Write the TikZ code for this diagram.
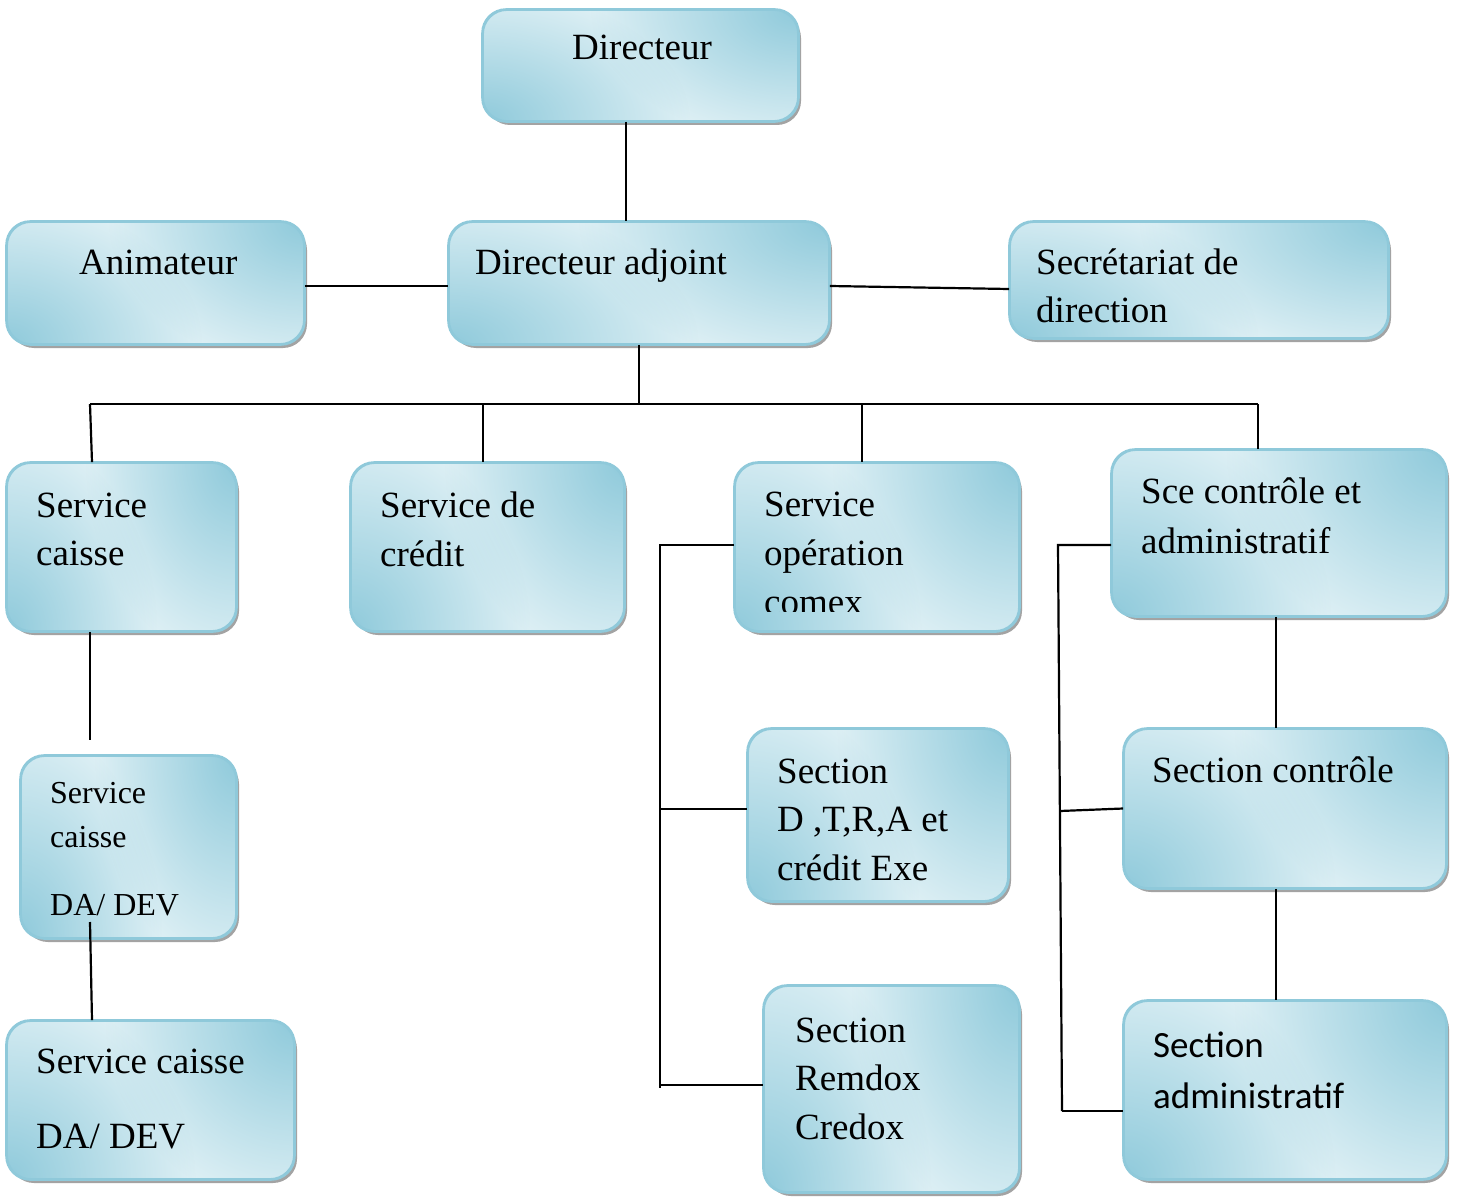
\documentclass[tikz,border=0pt]{standalone}
\usepackage{fontspec}
\setmainfont{Liberation Serif}
\newfontfamily\calfont{Carlito}
\usetikzlibrary{shadows,calc,fadings}
\definecolor{bdk}{HTML}{8FCADB}
\definecolor{blt}{HTML}{DEF0F5}
\definecolor{bbr}{HTML}{8FC9DA}
\tikzfading[name=cfade, inner color=transparent!0, outer color=transparent!100]
\tikzset{
  orgbox/.style={draw=bbr, line width=1.8pt, rounded corners=24pt, fill=blt,
    drop shadow={shadow xshift=3pt,shadow yshift=-4pt,fill=black!40,opacity=0.9},
    inner sep=0pt, rectangle},
  txt/.style={anchor=base west, inner sep=0pt, font=\fontsize{37}{49}\selectfont},
  link/.style={line width=2.2pt, black}
}
\begin{document}
\begin{tikzpicture}[x=1pt,y=-1pt]
\useasboundingbox (0,0) rectangle (1458,1198);
% boxes
\node[orgbox, minimum width=315pt, minimum height=111pt] (dir) at (640.5,65.5) {};
\node[orgbox, minimum width=297pt, minimum height=122pt] (anim) at (155.5,283) {};
\node[orgbox, minimum width=380pt, minimum height=122pt] (dirA) at (639,283) {};
\node[orgbox, minimum width=378pt, minimum height=116pt] (sec) at (1199,280) {};
\node[orgbox, minimum width=229pt, minimum height=168pt] (caisse) at (121.5,547) {};
\node[orgbox, minimum width=273pt, minimum height=168pt] (credit) at (487.5,547) {};
\node[orgbox, minimum width=284pt, minimum height=168pt] (comex) at (877,547) {};
\node[orgbox, minimum width=334pt, minimum height=166pt] (sce) at (1279,533) {};
\node[orgbox, minimum width=215pt, minimum height=182pt] (small) at (128.5,847) {};
\node[orgbox, minimum width=287pt, minimum height=158pt] (caisse2) at (150.5,1100) {};
\node[orgbox, minimum width=260pt, minimum height=172pt] (dtra) at (878,815) {};
\node[orgbox, minimum width=255pt, minimum height=206pt] (remdox) at (891.5,1089) {};
\node[orgbox, minimum width=322pt, minimum height=159pt] (sectC) at (1285,808.5) {};
\node[orgbox, minimum width=322pt, minimum height=178pt] (sectA) at (1285,1090) {};
% gradient corners
\foreach \b/\w/\h in {dir/315/111, anim/297/122, dirA/380/122, sec/378/116, caisse/229/168,
  credit/273/168, comex/284/168, sce/334/166, small/215/182, caisse2/287/158, dtra/260/172,
  remdox/255/206, sectC/322/159, sectA/322/178}{
  \begin{scope}
    \clip[rounded corners=24pt] (\b.south west) rectangle (\b.north east);
    \fill[bdk, path fading=cfade] (\b.north east) ellipse [x radius={0.66*\w}, y radius={1.2*\h}];
    \fill[bdk, path fading=cfade] (\b.south west) ellipse [x radius={0.66*\w}, y radius={1.2*\h}];
  \end{scope}
  \draw[bbr, line width=1.8pt, rounded corners=24pt] (\b.south west) rectangle (\b.north east);
}
% texts
\node[txt] (tdir) at (572,60) {Directeur};
\node[txt] (tanim) at (79,274) {Animateur};
\node[txt] (tdirA) at (475,274) {Directeur adjoint};
\node[txt] (tsec) at (1036,274) {\vtop{\baselineskip=48pt\hbox{Secrétariat de}\hbox{direction}}};
\node[txt] (tcaisse) at (36,517) {\vtop{\baselineskip=48pt\hbox{Service}\hbox{caisse}}};
\node[txt] (tcredit) at (380,517) {\vtop{\baselineskip=49pt\hbox{Service de}\hbox{crédit}}};
\begin{scope}
\clip (735,463) rectangle (1023,611);
\node[txt] (tcomex) at (764,516) {\vtop{\baselineskip=49pt\hbox{Service}\hbox{opération}\hbox{comex}}};
\end{scope}
\node[txt] (tsce) at (1141,503) {\vtop{\baselineskip=50pt\hbox{Sce contrôle et}\hbox{administratif}}};
\node[txt, font=\fontsize{32}{44}\selectfont] (tsmall) at (50,803) {\vtop{\baselineskip=44pt\hbox{Service}\hbox{caisse}\vskip24pt\hbox{DA/ DEV}}};
\node[txt] (tcaisse2) at (36,1073) {\vtop{\baselineskip=48pt\hbox{Service caisse}\vskip27pt\hbox{DA/ DEV}}};
\node[txt] (tdtra) at (777,783) {\vtop{\baselineskip=48.5pt\hbox{Section}\hbox{D ,T,R,A et}\hbox{crédit Exe}}};
\node[txt] (tremdox) at (795,1042) {\vtop{\baselineskip=48.5pt\hbox{Section}\hbox{Remdox}\hbox{Credox}}};
\node[txt] (tsectC) at (1152,782) {Section contrôle};
\node[txt, font=\calfont\fontsize{37}{51}\selectfont] (tsectA) at (1153,1057) {\vtop{\baselineskip=51pt\hbox{Section}\hbox{administratif}}};
% coordinates
\coordinate (busL) at (90,404);
\coordinate (busR) at (1258,404);
\coordinate (cend) at (90,740);
\coordinate (sstart) at (90,922);
\coordinate (ct) at (660,545);
\coordinate (cb) at (660,1088);
\coordinate (st) at (1058,545);
\coordinate (sb) at (1062,1111);
\coordinate (sm) at (1060,811);
% connectors
\draw[link] ([xshift=-14.5pt]dir.south) -- ([xshift=-14.5pt]dir.south |- dirA.north);
\draw[link] ([yshift=-3pt]anim.east) -- ([yshift=-3pt]dirA.west);
\draw[link] ([yshift=-3pt]dirA.east) -- ([yshift=-9pt]sec.west);
\draw[link] (dirA.south) -- (dirA.south |- busL);
\draw[link] (busL) -- (busR);
\draw[link] (busL) -- ([xshift=-29.5pt]caisse.north);
\draw[link] ([xshift=-4.5pt]credit.north |- busL) -- ([xshift=-4.5pt]credit.north);
\draw[link] ([xshift=-15pt]comex.north |- busL) -- ([xshift=-15pt]comex.north);
\draw[link] (busR) -- (busR |- sce.north);
\draw[link] ([xshift=-31.5pt]caisse.south) -- (cend);
\draw[link] (sstart) -- ([xshift=-58.5pt]caisse2.north);
\draw[link] (comex.west |- ct) -- (ct) -- (cb);
\draw[link] (ct |- dtra.west) ++(0,-6) -- ([yshift=6pt]dtra.west);
\draw[link] (cb) ++(0,-3) -- ([yshift=4pt]remdox.west);
\draw[link] ([yshift=-12pt]sce.west) -- (st) -- (sb);
\draw[link] (sm) -- (sectC.west);
\draw[link] (sb) -- ([yshift=-21pt]sectA.west);
\draw[link] ([xshift=-3pt]sce.south) -- ([xshift=-3pt]sce.south |- sectC.north);
\draw[link] ([xshift=-9pt]sectC.south) -- ([xshift=-9pt]sectA.north);
\end{tikzpicture}
\end{document}
